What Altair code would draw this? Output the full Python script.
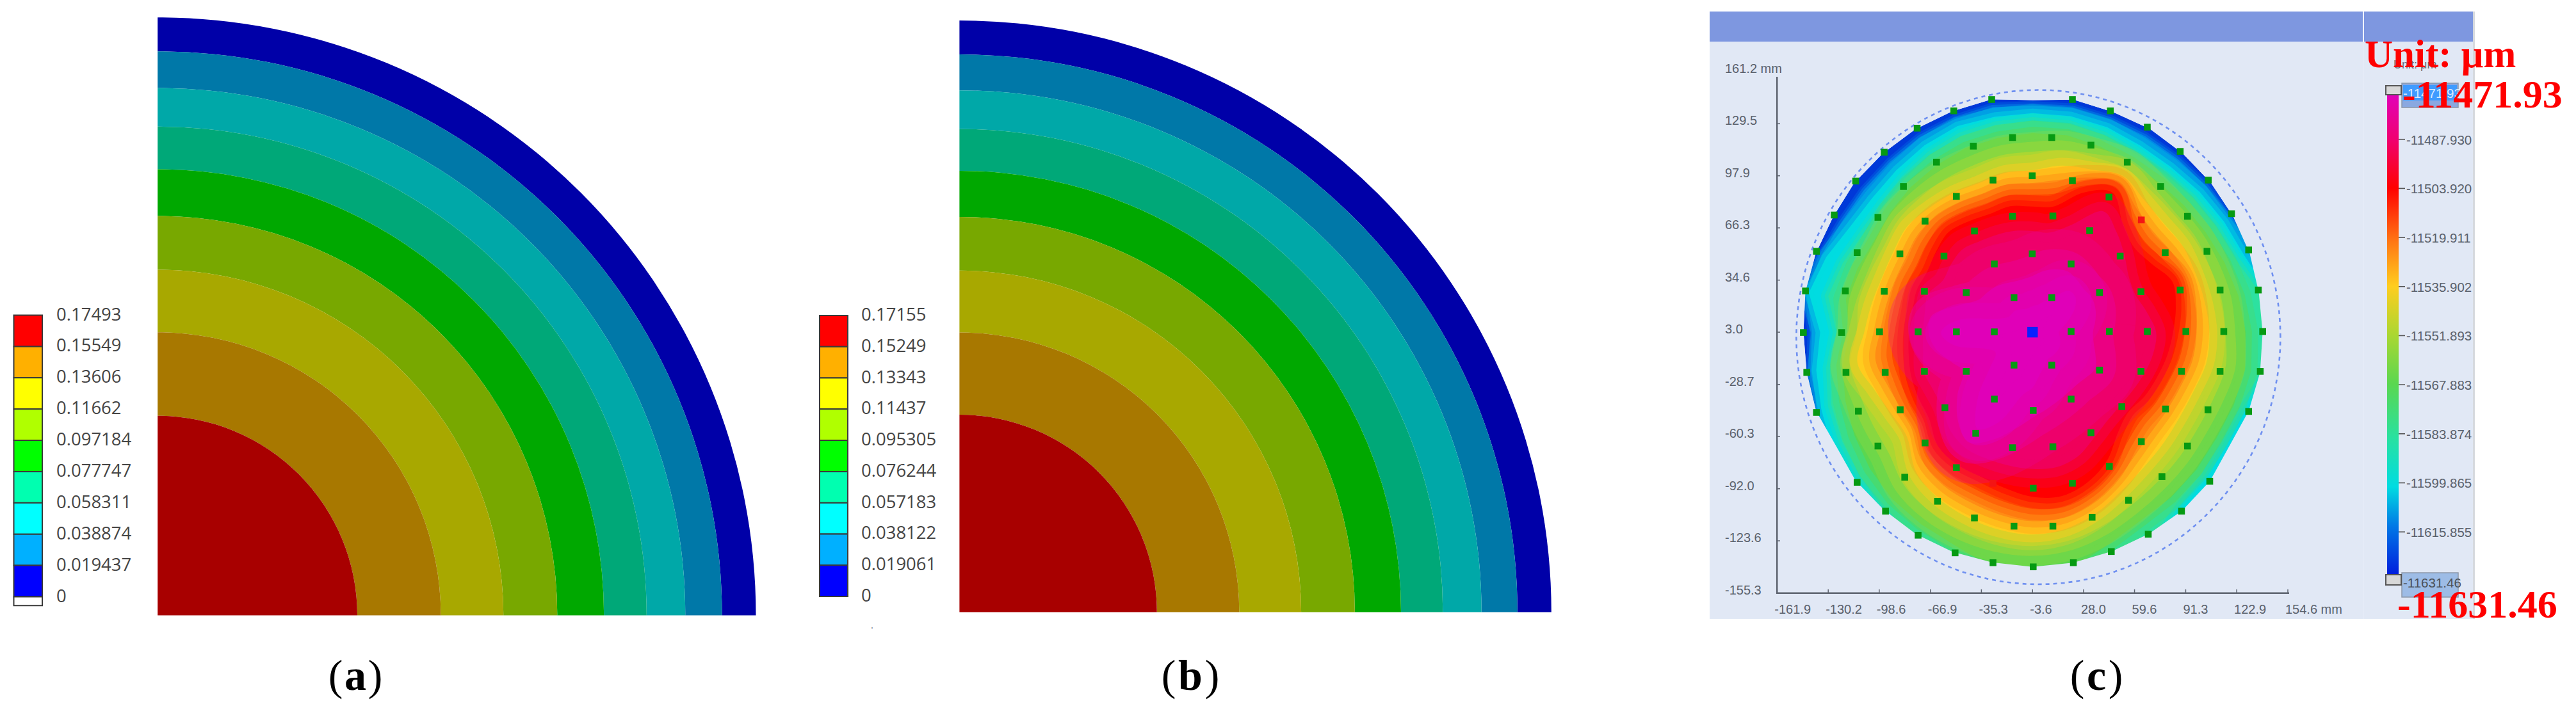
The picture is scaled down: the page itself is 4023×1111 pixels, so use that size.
import math
import altair as alt
import pandas as pd

# ---------- panels (a) and (b): radii of the contour bands, mm, outer to inner
RADII_A = [150.0, 141.5, 132.3, 122.6, 111.9, 100.2, 86.7, 71.0, 50.06]
RADII_B = [150.0, 141.4, 132.3, 122.5, 111.9, 100.2, 86.6, 70.9, 50.04]
BAND_COLORS = ["#0000A8", "#0078A8", "#00A8A8", "#00A878", "#00A800", "#78A800", "#A8A800", "#A87800", "#A80000"]

LABELS_A = ["0.17493", "0.15549", "0.13606", "0.11662", "0.097184", "0.077747", "0.058311", "0.038874", "0.019437", "0"]
LABELS_B = ["0.17155", "0.15249", "0.13343", "0.11437", "0.095305", "0.076244", "0.057183", "0.038122", "0.019061", "0"]
LEVELS_A = [0.17493, 0.15549, 0.13606, 0.11662, 0.097184, 0.077747, 0.058311, 0.038874, 0.019437, 0.0]
LEVELS_B = [0.17155, 0.15249, 0.13343, 0.11437, 0.095305, 0.076244, 0.057183, 0.038122, 0.019061, 0.0]
LEGEND_COLORS = ["#FF0000", "#FFB000", "#FFFF00", "#B0FF00", "#00FF00", "#00FFB0", "#00FFFF", "#00B0FF", "#0000FF"]

# ---------- panel (c): measurement sites, mm
RING6_X = [21.1, 44.6, 67.5, 87.9, 105.3, 119.7, 130.3, 136.3, 139.0, 137.5, 130.3, 106.2, 88.7, 68.1, 45.2, 21.7, -3.2, -28.1, -51.6, -74.5, -94.7, -112.3, -137.5, -143.5, -145.6, -144.3, -137.5, -126.5, -113.2, -95.5, -75.1, -52.4, -28.9]
RING6_Y = [144.2, 137.3, 127.4, 112.7, 95.3, 74.9, 52.9, 28.6, 3.4, -20.8, -45.1, -87.5, -105.6, -119.6, -130.1, -136.9, -139.4, -136.9, -130.9, -120.2, -105.6, -88.1, -45.7, -21.4, 2.8, 28.0, 52.1, 74.1, 94.7, 112.2, 126.8, 137.3, 144.2]
RING5_X = [-16.0, 8.3, 32.6, 55.1, 75.8, 92.4, 104.5, 112.6, 114.9, 112.6, 105.1, 92.4, 76.6, 55.9, 33.3, 9.0, -15.1, -39.6, -62.5, -82.8, -99.4, -111.5, -119.2, -121.9, -119.6, -112.3, -99.4, -83.6, -63.1, -40.3]
RING5_Y = [121.1, 121.1, 116.5, 106.2, 91.4, 73.3, 52.1, 28.6, 3.4, -20.8, -44.1, -66.1, -84.6, -99.0, -109.3, -114.7, -114.7, -109.7, -99.6, -85.0, -66.1, -44.9, -21.4, 2.8, 28.0, 51.3, 72.7, 91.4, 106.2, 115.9]
RING4_X = [-3.8, 21.1, 43.8, 78.6, 87.9, 91.4, 88.7, 78.8, 63.8, 44.0, 21.1, -3.2, -50.8, -70.2, -85.6, -94.9, -98.4, -95.5, -85.8, -70.2, -50.8, -28.1]
RING4_Y = [97.9, 94.9, 85.0, 51.3, 28.6, 3.4, -20.8, -43.6, -63.4, -78.4, -88.7, -91.7, -79.2, -64.2, -44.1, -21.4, 3.2, 27.8, 50.5, 70.4, 85.4, 95.3]
RING3_X = [-16.0, 9.0, 31.8, 50.7, 63.6, 67.5, 63.6, 51.7, 32.6, 9.0, -16.0, -38.8, -57.9, -70.6, -74.5, -70.6, -58.5, -39.6]
RING3_Y = [73.3, 73.5, 64.6, 49.2, 27.6, 3.4, -20.8, -42.2, -58.0, -66.5, -67.1, -58.4, -42.8, -20.8, 3.2, 27.8, 49.2, 64.4]
RING2_X = [-3.8, 20.3, 37.9, 44.0, 37.9, 20.3, -3.2, -27.3, -44.7, -50.8, -44.7, -27.3]
RING2_Y = [50.5, 44.4, 27.0, 3.4, -20.0, -37.6, -44.5, -37.6, -20.8, 3.2, 27.0, 44.4]
RING1_X = [-15.1, 8.3, 20.3, 8.3, -15.1, -27.3]
RING1_Y = [24.0, 24.0, 3.4, -17.0, -17.0, 3.2]
HOT_X = [63.8, -28.1]
HOT_Y = [71.1, -88.7]
CENTRE_X = [-3.6]
CENTRE_Y = [3.0]

# contours of the measured field: one radius from the wafer centre every 10 degrees, counter-clockwise from east
C_EDGE = [140.8,140.6,141.4,141.8,142.4,143.0,143.8,143.6,144.6,142.2,144.8,144.0,143.6,142.8,142.4,141.0,141.2,141.2,140.2,140.4,141.0,139.0,141.4,141.8,142.8,143.2,143.2,143.8,143.4,142.8,142.6,142.6,141.8,139.2,140.8,141.4]
C_AZURE = [146,146,146,139.6,139,138.4,138.4,138.8,139.6,138.8,140,139,138,136,135,135,137.6,140.6,135,138,139.6,146,146,146,146,146,146,146,146,146,146,146,146,146,146,146]
C_CYAN = [146,146,137.8,135.4,133.6,132,132,133.6,134.4,134.2,134,134.4,132.2,129.6,128,129,134.4,139,130,134.4,137.6,142,146,146,146,146,146,146,146,146,146,146,146,146,146,146]
C_TEAL = [146,141,132,129.6,128,126.4,126.4,128.4,129.6,129.6,129,128,125.6,122.4,120,120,123.6,127,120,126,131,134.4,137.6,140,146,146,146,146,146,146,146,137,135,133,134.4,142]
C_GREEN = [130.4,128,125,122.4,121,120,120,121,122.4,122,121,120,118,116,114,112,114,116,112,118,122,126,130,133.6,136,139,146,146,146,138,133,132,131,130,131,132]
C_LIME = [118,117.4,115.6,114.2,112.6,113,115.4,113.6,113,110.6,110,108.4,108,107.4,107.2,105.2,106,108,107.6,113.4,112.4,113,115,122.4,126.4,128.8,130.4,131,129.6,126,122,119.4,118,117,118,120]
C_YELLOW = [108.2,107,106,106,104.4,106,110.6,106,103.6,99.2,99,97,98,99,100.4,98.4,98,100,103,108.8,103,99.8,100.2,111.2,116.8,120,122.6,124,122,117,111,107,105,104,105,108]
C_ORANGE = [100.4,100.8,100.8,98.2,96.2,99,106.4,100.8,94.8,91.4,91.8,90,91.2,92.4,92.2,90,90,91.2,93.4,97.6,94.6,93,94,104,108.6,111,113.6,115.8,115,110.4,104,98,95,95.2,96.6,99.4]
C_DEEP = [93.2,94.8,95.8,91,88.4,92.4,102.4,95.8,86.4,84.2,85,83.4,84.6,86,84.4,82,82.6,82.8,84.4,87.2,86.6,86.8,88.2,97,100.8,102.4,105.2,108.2,108.4,104,97.4,89.4,85.6,87,88.6,91.4]
C_RED = [86,89,91,84,81,86,98.4,91,78.4,77,78.4,77,78.4,80,77,74.4,75.4,74.6,75.6,77,79,80.6,82.6,90.4,93.2,94,97,100.8,102,98,91,81,76.4,79,81,83.6]
C_CRIMSON = [75.6,71,67,68,73.4,80,85.6,70,62,62,63,63.6,64.4,66.4,65,63.4,68,67,67,68,70.8,70.4,72,78.4,82,82.4,83,83.8,84,81,75,71,70,71,73,75]
C_PINK = [37,39,41,42,41,42,43,41,38,34.4,33,33,34.4,36,37,39,48,62,63.6,60,53,49,60,71,78,70,60,52.4,48,45,43,42,43,44.4,41,38]
C_MAGENTA = [16,19,24,30,34,33,24,20,17,16,15,15,16,17,17,18,24,45,56,48,30,26,34,52,68,58,40,34,26,22,19,19,19,19,18,17]

CONTOURS = [C_EDGE, C_AZURE, C_CYAN, C_TEAL, C_GREEN, C_LIME, C_YELLOW, C_ORANGE, C_DEEP, C_RED, C_CRIMSON, C_PINK, C_MAGENTA]
CONTOUR_COLORS = ["#0038D8", "#008CE6", "#00DCE1", "#2DE1A0", "#5AD750", "#AAD732", "#FFCD1E", "#FF8C14", "#FF4600", "#FF0000", "#F0005A", "#E600A0", "#E000B8"]
SOFTEN = [0, 10, 20, 16, 28, 44, 35, 28, 25, 25, 42, 90, 70]

X_TICKS = [-161.9, -130.2, -98.6, -66.9, -35.3, -3.6, 28.0, 59.6, 91.3, 122.9, 154.6]
X_TICK_LABELS = ["-161.9", "-130.2", "-98.6", "-66.9", "-35.3", "-3.6", "28.0", "59.6", "91.3", "122.9", "154.6 mm"]
Y_TICKS = [161.2, 129.5, 97.9, 66.3, 34.6, 3.0, -28.7, -60.3, -92.0, -123.6, -155.3]
Y_TICK_LABELS = ["161.2 mm", "129.5", "97.9", "66.3", "34.6", "3.0", "-28.7", "-60.3", "-92.0", "-123.6", "-155.3"]
BAR_TICKS = [-11487.930, -11503.920, -11519.911, -11535.902, -11551.893, -11567.883, -11583.874, -11599.865, -11615.855]
BAR_LABELS = ["-11487.930", "-11503.920", "-11519.911", "-11535.902", "-11551.893", "-11567.883", "-11583.874", "-11599.865", "-11615.855"]
BAR_MIN, BAR_MAX = -11631.46, -11471.93
BAR_STOPS = [(0.0, "#E000C0"), (0.10, "#F00070"), (0.20, "#FF0000"), (0.31, "#FF7814"), (0.40, "#FFCD1E"), (0.50, "#AAD732"), (0.60, "#5AD750"), (0.71, "#28E1A0"), (0.81, "#00DCE1"), (0.89, "#0078E6"), (1.0, "#0014DC")]

# ---------- layout, in reference pixels
OFF = 8
FONT_SANS = "Liberation Sans"
FONT_LEG = "Open Sans"
FONT_SERIF = "Liberation Serif"
PANEL_BG = "#E1E8F5"


def px(v):
    return alt.value(v - OFF)


def rng(a, b):
    return [a - OFF, b - OFF]


def rect(x0, x1, y0, y1, fill, stroke=None, sw=0):
    kw = {"fill": fill}
    if stroke:
        kw.update(stroke=stroke, strokeWidth=sw)
    return alt.Chart(pd.DataFrame({"a": [0]})).mark_rect(**kw).encode(x=px(x0), x2=px(x1), y=px(y0), y2=px(y1))


def label(text, x, y, font, size, color, weight="normal", align="left", baseline="middle"):
    return alt.Chart(pd.DataFrame({"t": [text]})).mark_text(
        font=font, fontSize=size, color=color, fontWeight=weight, align=align, baseline=baseline
    ).encode(text="t:N", x=px(x), y=px(y))


def quarter(radii, cx, cy, rx, ry):
    df = pd.DataFrame({"r": radii, "r0": radii[1:] + [0.0], "band": list(range(len(radii))), "cx": 0.0, "cy": 0.0})
    return alt.Chart(df).mark_arc(stroke=None).encode(
        x=alt.X("cx:Q", axis=None, scale=alt.Scale(domain=[0, 150], range=rng(cx, cx + rx))),
        y=alt.Y("cy:Q", axis=None, scale=alt.Scale(domain=[0, 150], range=rng(cy, cy - ry))),
        radius=alt.Radius("r:Q", scale=alt.Scale(type="linear", domain=[0, 150], range=[0, rx])),
        radius2=alt.Radius2("r0:Q"),
        theta=alt.value(0),
        theta2=alt.value(math.pi / 2),
        color=alt.Color("band:O", legend=None, scale=alt.Scale(domain=list(range(len(radii))), range=BAND_COLORS)),
    )


def legend_bar(levels, labels, x0, x1, xlab, ytop, ybot, white_to=None):
    lo, hi = levels[-1], levels[0]
    ys = alt.Scale(domain=[lo, hi], range=rng(ybot, ytop))
    xs = alt.Scale(domain=[0, 1], range=rng(x0, x1))
    top = levels[:-1]
    bot = levels[1:]
    idx = list(range(len(top)))
    colors = list(LEGEND_COLORS)
    if white_to is not None:
        top = top + [lo]
        bot = bot + [white_to]
        idx = idx + [len(idx)]
        colors = colors + ["#FFFFFF"]
    d = pd.DataFrame({"top": top, "bot": bot, "i": idx, "a": 0.0, "b": 1.0})
    bars = alt.Chart(d).mark_rect(stroke="#3A3A3A", strokeWidth=2).encode(
        x=alt.X("a:Q", axis=None, scale=xs), x2="b:Q",
        y=alt.Y("top:Q", axis=None, scale=ys), y2="bot:Q",
        color=alt.Color("i:O", legend=None, scale=alt.Scale(domain=idx, range=colors)),
    )
    t = pd.DataFrame({"v": levels, "s": labels})
    text = alt.Chart(t).mark_text(font=FONT_LEG, fontSize=27.5, color="#454545", align="left", baseline="middle").encode(
        x=px(xlab), y=alt.Y("v:Q", axis=None, scale=ys), text="s:N"
    )
    return [bars, text]


layers = []

# ---- panel (a), (b)
layers.append(quarter(RADII_A, 246.2, 961.5, 934.3, 936))
layers += legend_bar(LEVELS_A, LABELS_A, 21.5, 66, 88, 492.5, 932.5, white_to=-0.0055)
layers.append(quarter(RADII_B, 1498.4, 956.5, 924.4, 926.7))
layers += legend_bar(LEVELS_B, LABELS_B, 1280, 1324, 1345, 493, 932)
layers.append(label(".", 1362, 978, FONT_SANS, 14, "#333333", align="center"))

# ---- captions
for chars, xs in [(("(", "a", ")"), (524, 555, 586)), (("(", "b", ")"), (1825, 1859, 1893)), (("(", "c", ")"), (3244, 3274, 3304))]:
    layers.append(label(chars[0], xs[0], 1078, FONT_SERIF, 68, "#000000", align="center", baseline="alphabetic"))
    layers.append(label(chars[1], xs[1], 1078, FONT_SERIF, 68, "#000000", weight="bold", align="center", baseline="alphabetic"))
    layers.append(label(chars[2], xs[2], 1078, FONT_SERIF, 68, "#000000", align="center", baseline="alphabetic"))

# ---- panel (c) backdrop
layers.append(rect(2670, 3862, 65, 967, PANEL_BG))
layers.append(rect(3690, 3692, 65, 967, "#E5EBF7"))
layers.append(rect(3862, 3865, 18, 967, "#D6D9DE"))
layers.append(rect(2670, 3690, 18, 65, "#7E97E0"))
layers.append(rect(3692, 3862, 18, 65, "#7E97E0"))

# ---- wafer scales
wx = alt.Scale(domain=[-161.9, 154.6], range=rng(2775.3, 3573))
wy = alt.Scale(domain=[-155.3, 161.2], range=rng(926.7, 111.7))
KX, KY = 1.0125, 0.9905  # the picture's x and y axes are not drawn to the same scale
CX, CY = CENTRE_X[0], CENTRE_Y[0]


def contour_xy(radii, j):
    a = math.radians(10 * j)
    return CX + KX * radii[j] * math.cos(a), CY + KY * radii[j] * math.sin(a)


for k, radii in enumerate(CONTOURS):
    n = len(radii)
    pts = [contour_xy(radii, j) for j in range(n)]
    d = pd.DataFrame({"x": [p[0] for p in pts], "y": [p[1] for p in pts], "i": list(range(n))})
    interp = "linear-closed" if k < 5 else "cardinal-closed"
    enc = dict(x=alt.X("x:Q", scale=wx, axis=None), y=alt.Y("y:Q", scale=wy, axis=None), order="i:Q")
    color = CONTOUR_COLORS[k]
    if SOFTEN[k]:
        layers.append(alt.Chart(d).mark_line(stroke=color, strokeWidth=SOFTEN[k] * 1.4, strokeOpacity=0.25,
                                             strokeJoin="round", interpolate=interp).encode(**enc))
        layers.append(alt.Chart(d).mark_line(stroke=color, strokeWidth=SOFTEN[k] * 0.7, strokeOpacity=0.45, fill=color,
                                             strokeJoin="round", interpolate=interp).encode(**enc))
    else:
        layers.append(alt.Chart(d).mark_line(fill=color, strokeWidth=0, interpolate=interp).encode(**enc))

# everything outside the measured edge returns to the panel's colour
mask_pts = [(-158, -153), (158, -153), (158, 153), (-158, 153), (-158, -153)]
mask_pts += [contour_xy(C_EDGE, j % 36) for j in range(36, -1, -1)]
mask_pts += [(-158, -153)]
mask = pd.DataFrame({"x": [p[0] for p in mask_pts], "y": [p[1] for p in mask_pts], "i": list(range(len(mask_pts)))})
layers.append(alt.Chart(mask).mark_line(fill=PANEL_BG, strokeWidth=0).encode(
    x=alt.X("x:Q", scale=wx, axis=None), y=alt.Y("y:Q", scale=wy, axis=None), order="i:Q"))

# dashed wafer outline, radius 150 mm
c_ang = [math.radians(a) for a in range(0, 361, 3)]
circle = pd.DataFrame({"x": [150 * math.cos(a) for a in c_ang], "y": [150 * math.sin(a) for a in c_ang], "i": list(range(len(c_ang)))})
layers.append(alt.Chart(circle).mark_line(stroke="#6F90F0", strokeWidth=2.6, strokeDash=[6, 6]).encode(
    x=alt.X("x:Q", scale=wx, axis=None), y=alt.Y("y:Q", scale=wy, axis=None), order="i:Q"))

# measurement sites
site_x = RING6_X + RING5_X + RING4_X + RING3_X + RING2_X + RING1_X
site_y = RING6_Y + RING5_Y + RING4_Y + RING3_Y + RING2_Y + RING1_Y
layers.append(alt.Chart(pd.DataFrame({"x": site_x, "y": site_y})).mark_square(size=112, color="#069A12", opacity=1).encode(
    x=alt.X("x:Q", scale=wx, axis=None), y=alt.Y("y:Q", scale=wy, axis=None)))
layers.append(alt.Chart(pd.DataFrame({"x": HOT_X, "y": HOT_Y})).mark_square(size=112, color="#F41414", opacity=1).encode(
    x=alt.X("x:Q", scale=wx, axis=None), y=alt.Y("y:Q", scale=wy, axis=None)))
layers.append(alt.Chart(pd.DataFrame({"x": CENTRE_X, "y": CENTRE_Y})).mark_square(size=270, color="#0A20FF", opacity=1).encode(
    x=alt.X("x:Q", scale=wx, axis=None), y=alt.Y("y:Q", scale=wy, axis=None)))

# axes of the wafer map
AXIS_C = "#5E6470"
layers.append(rect(2774, 2776.5, 120, 928, AXIS_C))
layers.append(rect(2774, 3575, 925.5, 928, AXIS_C))
layers.append(alt.Chart(pd.DataFrame({"v": X_TICKS, "s": X_TICK_LABELS})).mark_rule(stroke=AXIS_C, strokeWidth=1.5).encode(
    x=alt.X("v:Q", scale=wx, axis=None), y=px(921), y2=px(926)))
layers.append(alt.Chart(pd.DataFrame({"v": X_TICKS, "s": X_TICK_LABELS})).mark_text(
    font=FONT_SANS, fontSize=20, color="#5A616C", align="left", baseline="middle", dx=-4).encode(
    x=alt.X("v:Q", scale=wx, axis=None), y=px(953), text="s:N"))
layers.append(alt.Chart(pd.DataFrame({"v": Y_TICKS[1:]})).mark_rule(stroke=AXIS_C, strokeWidth=1.5).encode(
    y=alt.Y("v:Q", scale=wy, axis=None), x=px(2775), x2=px(2780)))
layers.append(alt.Chart(pd.DataFrame({"v": Y_TICKS, "s": Y_TICK_LABELS})).mark_text(
    font=FONT_SANS, fontSize=20, color="#5A616C", align="left", baseline="middle", dy=-4).encode(
    y=alt.Y("v:Q", scale=wy, axis=None), x=px(2694), text="s:N"))

# colour bar
bs = alt.Scale(domain=[BAR_MIN, BAR_MAX], range=rng(906, 141))
grad = alt.Gradient(gradient="linear", x1=0, x2=0, y1=0, y2=1,
                    stops=[alt.GradientStop(offset=o, color=c) for o, c in BAR_STOPS])
layers.append(alt.Chart(pd.DataFrame({"a": [BAR_MIN], "b": [BAR_MAX]})).mark_rect(fill=grad).encode(
    y=alt.Y("b:Q", scale=bs, axis=None), y2="a:Q", x=px(3728), x2=px(3746)))
layers.append(alt.Chart(pd.DataFrame({"v": BAR_TICKS})).mark_rule(stroke="#555555", strokeWidth=1.6).encode(
    y=alt.Y("v:Q", scale=bs, axis=None), x=px(3746), x2=px(3756)))
layers.append(alt.Chart(pd.DataFrame({"v": BAR_TICKS, "s": BAR_LABELS})).mark_text(
    font=FONT_SANS, fontSize=20.5, color="#5A616C", align="left", baseline="middle", dy=2).encode(
    y=alt.Y("v:Q", scale=bs, axis=None), x=px(3758), text="s:N"))
layers.append(label("Unit: \u03bcm", 3738, 102, FONT_SANS, 18, "#6A6E76"))

layers.append(rect(3751, 3839, 130, 168, "#8AA8E0", "#8C97A8", 1.5))
layers.append(rect(3753, 3837, 133, 157, "#3F9BFF"))
layers.append(label("-11471.93", 3753, 147, FONT_SANS, 20.5, "#D9E9FF"))
layers.append(rect(3726, 3750, 134, 148, "#D8D8D8", "#555555", 2))
layers.append(rect(3751, 3839, 895, 933, "#9DBCE6", "#8C97A8", 1.5))
layers.append(label("-11631.46", 3753, 912, FONT_SANS, 20.5, "#4A5058"))
layers.append(rect(3726, 3750, 898, 914, "#D8D8D8", "#555555", 2))

# red annotations
layers.append(label("Unit: \u03bcm", 3693, 105, FONT_SERIF, 61, "#FF0000", weight="bold", baseline="alphabetic"))
layers.append(label("-11471.93", 3752, 168, FONT_SERIF, 62, "#FF0000", weight="bold", baseline="alphabetic"))
layers.append(label("-11631.46", 3744, 965, FONT_SERIF, 62, "#FF0000", weight="bold", baseline="alphabetic"))

chart = alt.layer(*layers).resolve_scale(
    x="independent", y="independent", color="independent", radius="independent"
).properties(
    width=4007, height=1095, padding=0, background="white",
    autosize=alt.AutoSizeParams(type="none"),
).configure_view(stroke=None)

chart.save("out.html", embed_options={"renderer": "svg", "actions": False})
